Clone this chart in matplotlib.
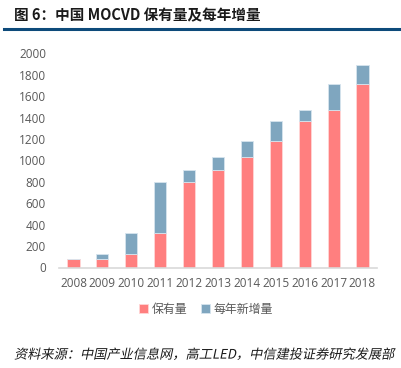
import matplotlib
matplotlib.use("Agg")
import matplotlib.pyplot as plt
import matplotlib.patheffects as pe
from matplotlib.transforms import Affine2D
import numpy as np

years = ["2008", "2009", "2010", "2011", "2012", "2013", "2014", "2015", "2016", "2017", "2018"]
holdings = [80, 80, 125, 325, 800, 910, 1030, 1185, 1365, 1470, 1715]
increments = [0, 45, 200, 470, 107, 122, 155, 180, 105, 245, 180]
yticks = [0, 200, 400, 600, 800, 1000, 1200, 1400, 1600, 1800, 2000]

plt.rcParams['font.family'] = ['Noto Sans CJK SC', 'DejaVu Sans']


class Slant(pe.AbstractPathEffect):
    def __init__(self, deg=12):
        super().__init__()
        self.deg = deg

    def draw_path(self, renderer, gc, tpath, affine, rgbFace=None):
        y0 = affine.transform((0, 0))[1]
        sk = Affine2D().translate(0, -y0).skew_deg(self.deg, 0).translate(0, y0)
        renderer.draw_path(gc, tpath, affine + sk, rgbFace)


W, H = 402, 368
fig = plt.figure(figsize=(W / 100, H / 100), dpi=100)

ax = fig.add_axes([58.5 / W, 1 - 267.5 / H, 319 / W, 214.2 / H])
x = np.arange(len(years))
pink = "#FF7F7F"
blue = "#7FA6BF"
ax.bar(x, holdings, width=0.42, color=pink, edgecolor="#FFD6D6", linewidth=0.6, label="保有量")
ax.bar(x, increments, width=0.42, bottom=holdings, color=blue, edgecolor="#D6E4EE", linewidth=0.6, label="每年新增量")

ax.set_xlim(-0.52, 10.52)
ax.set_ylim(0, 2000)
ax.set_yticks(yticks)
ax.set_yticklabels([str(v) for v in yticks], fontsize=8.5, color="#595959", family=['Open Sans', 'DejaVu Sans'])
ax.set_xticks(x)
ax.set_xticklabels(years, fontsize=8.5, color="#595959", family=['Open Sans', 'DejaVu Sans'])
for s in ["top", "right", "left"]:
    ax.spines[s].set_visible(False)
ax.spines["bottom"].set_color("#D9D9D9")
ax.spines["bottom"].set_linewidth(1.2)
ax.tick_params(axis="both", length=0)
ax.tick_params(axis="y", pad=9)
ax.tick_params(axis="x", pad=7)

leg = ax.legend(loc="upper center", bbox_to_anchor=(0.462, -0.115), ncol=2, frameon=False,
                fontsize=8.6, handlelength=0.75, handleheight=0.75, handletextpad=0.3, columnspacing=1.1,
                labelcolor="#595959")

# title
fig.text(14 / W, 1 - 15 / H, "图 6：中国 MOCVD 保有量及每年增量", fontsize=10.5, fontweight="bold",
         color="#1a1a1a", va="center", ha="left")
fig.add_artist(plt.Line2D([4 / W, 1.0], [1 - 28.5 / H, 1 - 28.5 / H], color="#0D4A7A", linewidth=2.2))

# source
fig.text(14 / W, 1 - 355 / H, "资料来源：中国产业信息网，高工LED，中信建投证券研究发展部", fontsize=9.5,
         color="#1a1a1a", va="center", ha="left", path_effects=[Slant(12)])

fig.savefig("out.png", dpi=100)
